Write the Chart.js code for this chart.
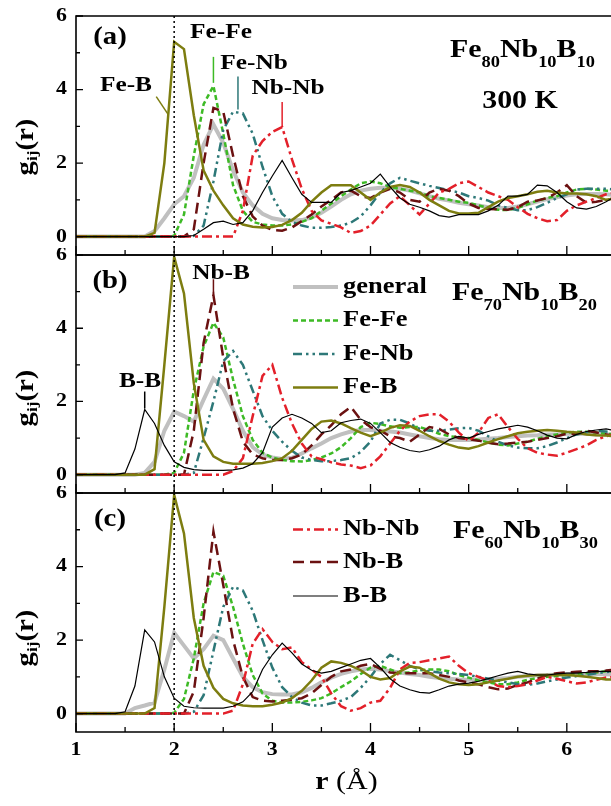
<!DOCTYPE html>
<html>
<head>
<meta charset="utf-8">
<script src="https://cdn.jsdelivr.net/npm/chart.js@4.4.0/dist/chart.umd.min.js"></script>
<style>
    body { margin: 0; background: #fff; }
    #wrap { position: relative; width: 611px; height: 806px; }
    #wrap canvas { position: absolute; left: 0; }
</style>
</head>
<body>
<div id="wrap">
    <canvas id="panelA" width="611" height="262" style="top:0px"></canvas>
    <canvas id="panelB" width="611" height="252" style="top:248px"></canvas>
    <canvas id="panelC" width="611" height="320" style="top:486px"></canvas>
</div>
<script>
// --- DATA: partial pair distribution functions g_ij(r), r step 0.1 A ---
const rGrid = [
    1.0, 1.1, 1.2, 1.3, 1.4, 1.5, 1.6, 1.7, 1.8, 1.9,
    2.0, 2.1, 2.2, 2.3, 2.4, 2.5, 2.6, 2.7, 2.8, 2.9,
    3.0, 3.1, 3.2, 3.3, 3.4, 3.5, 3.6, 3.7, 3.8, 3.9,
    4.0, 4.1, 4.2, 4.3, 4.4, 4.5, 4.6, 4.7, 4.8, 4.9,
    5.0, 5.1, 5.2, 5.3, 5.4, 5.5, 5.6, 5.7, 5.8, 5.9,
    6.0, 6.1, 6.2, 6.3, 6.4, 6.5
];

// (a) Fe80Nb10B10, 300 K
const aGeneral = [
    0, 0, 0, 0, 0, 0, 0, 0, 0.15, 0.5,
    0.88, 1.1, 1.6, 2.5, 3.05, 2.55, 1.8, 1.2, 0.85, 0.62,
    0.5, 0.45, 0.44, 0.45, 0.52, 0.65, 0.82, 1.0, 1.15, 1.25,
    1.3, 1.33, 1.33, 1.3, 1.25, 1.18, 1.1, 1.03, 0.98, 0.92,
    0.88, 0.85, 0.8, 0.78, 0.78, 0.82, 0.88, 0.95, 1.02, 1.07,
    1.12, 1.15, 1.16, 1.16, 1.15, 1.13
];
const aFeFe = [
    0, 0, 0, 0, 0, 0, 0, 0, 0, 0,
    0.02, 0.6, 2.2, 3.6, 4.1, 2.8, 1.4, 0.7, 0.4, 0.33,
    0.3, 0.3, 0.33, 0.4, 0.5, 0.7, 0.9, 1.1, 1.28, 1.45,
    1.5, 1.45, 1.35, 1.3, 1.25, 1.2, 1.1, 1.05, 1.0, 0.95,
    0.92, 0.85, 0.78, 0.73, 0.72, 0.78, 0.88, 0.98, 1.05, 1.1,
    1.2, 1.28, 1.3, 1.28, 1.25, 1.25
];
const aFeNb = [
    0, 0, 0, 0, 0, 0, 0, 0, 0, 0,
    0, 0, 0.02, 0.3, 1.5, 2.9, 3.4, 3.35, 2.8, 1.9,
    1.1, 0.62, 0.4, 0.3, 0.24, 0.24, 0.26, 0.3, 0.38, 0.55,
    0.85, 1.2, 1.45, 1.6, 1.52, 1.45, 1.38, 1.32, 1.26, 1.2,
    1.1, 1.05, 0.98, 0.85, 0.78, 0.72, 0.72, 0.8, 0.92, 1.05,
    1.15, 1.28, 1.3, 1.3, 1.3, 1.28
];
const aFeB = [
    0, 0, 0, 0, 0, 0, 0, 0, 0.1, 2.0,
    5.3, 5.1, 3.3, 1.8, 1.25, 0.85, 0.5, 0.33, 0.27, 0.25,
    0.26, 0.32, 0.45, 0.65, 0.95, 1.2, 1.4, 1.4, 1.4, 1.2,
    1.0, 1.2, 1.35, 1.4, 1.35, 1.2, 1.0, 0.85, 0.7, 0.63,
    0.63, 0.65, 0.8, 0.95, 1.05, 1.1, 1.15, 1.22, 1.25, 1.2,
    1.17, 1.17, 1.15, 1.1, 1.0, 1.05
];
const aNbNb = [
    0, 0, 0, 0, 0, 0, 0, 0, 0, 0,
    0, 0, 0, 0, 0, 0, 0, 0.7, 2.2, 2.6,
    2.85, 2.98, 2.1, 1.3, 0.7, 0.44, 0.35, 0.25, 0.1, 0.15,
    0.3, 0.6, 0.9, 1.1, 0.85, 0.6, 0.9, 1.2, 1.3, 1.45,
    1.5, 1.35, 1.2, 1.1, 1.0, 0.8, 0.62, 0.5, 0.42, 0.45,
    0.7, 0.85, 0.95, 1.05, 1.15, 1.2
];
const aNbB = [
    0, 0, 0, 0, 0, 0, 0, 0, 0, 0,
    0, 0, 0.2, 2.0, 3.5, 3.4, 2.2, 1.1, 0.55, 0.3,
    0.18, 0.16, 0.25, 0.42, 0.6, 0.82, 1.0, 1.2, 1.25, 1.1,
    1.05, 1.2, 1.3, 1.2, 1.0, 0.95, 1.2, 1.3, 1.25, 1.1,
    0.9, 0.78, 0.75, 0.74, 0.73, 0.8, 0.95, 0.98, 1.05, 1.2,
    1.4, 1.1, 0.92, 0.95, 1.0, 1.05
];
const aBB = [
    0, 0, 0, 0, 0, 0, 0, 0, 0, 0,
    0, 0, 0.03, 0.2, 0.38, 0.42, 0.33, 0.38, 0.7, 1.2,
    1.65, 2.07, 1.6, 1.15, 0.93, 0.93, 0.93, 1.2, 1.25, 1.35,
    1.45, 1.7, 1.35, 1.05, 0.88, 0.8, 0.7, 0.57, 0.53, 0.6,
    0.6, 0.6, 0.7, 0.85, 1.1, 1.1, 1.15, 1.4, 1.38, 1.2,
    0.95, 0.78, 0.75, 0.82, 0.95, 1.1
];

// (b) Fe70Nb10B20
const bGeneral = [
    0, 0, 0, 0, 0, 0, 0, 0.05, 0.35, 1.2,
    1.72, 1.6, 1.45, 2.05, 2.62, 2.35, 1.8, 1.2, 0.75, 0.55,
    0.47, 0.43, 0.46, 0.58, 0.72, 0.85, 1.0, 1.1, 1.18, 1.22,
    1.22, 1.2, 1.18, 1.15, 1.1, 1.05, 1.0, 0.97, 0.95, 0.95,
    0.95, 0.96, 0.98, 1.0, 1.03, 1.05, 1.07, 1.08, 1.1, 1.1,
    1.12, 1.12, 1.12, 1.1, 1.1, 1.1
];
const bFeFe = [
    0, 0, 0, 0, 0, 0, 0, 0, 0, 0,
    0.05, 0.6, 2.3, 3.5, 4.15, 3.75, 2.6, 1.6, 0.95, 0.6,
    0.47, 0.4, 0.37, 0.36, 0.4, 0.47, 0.58, 0.75, 1.0, 1.3,
    1.42, 1.38, 1.32, 1.28, 1.3, 1.3, 1.22, 1.12, 1.05, 1.02,
    1.0, 0.95, 0.88, 0.82, 0.8, 0.85, 0.9, 0.98, 1.05, 1.1,
    1.15, 1.17, 1.17, 1.15, 1.12, 1.1
];
const bFeNb = [
    0, 0, 0, 0, 0, 0, 0, 0, 0, 0,
    0, 0, 0.05, 1.0, 2.0, 3.1, 3.38, 3.0, 2.3, 1.6,
    1.2, 0.9, 0.65, 0.47, 0.4, 0.37, 0.37, 0.4, 0.45, 0.62,
    0.9, 1.4, 1.5, 1.5, 1.4, 1.25, 1.2, 1.2, 1.23, 1.27,
    1.28, 1.2, 1.05, 0.9, 0.8, 0.74, 0.72, 0.72, 0.78, 0.88,
    1.0, 1.1, 1.16, 1.2, 1.18, 1.15
];
const bFeB = [
    0, 0, 0, 0, 0, 0, 0, 0, 0.15, 3.0,
    5.95, 4.95, 2.5, 0.95, 0.5, 0.35, 0.3, 0.3, 0.3, 0.32,
    0.37, 0.45, 0.65, 0.95, 1.25, 1.45, 1.48, 1.4, 1.27, 1.15,
    1.05, 1.15, 1.28, 1.35, 1.33, 1.2, 1.05, 0.92, 0.82, 0.74,
    0.71, 0.78, 0.88, 0.97, 1.05, 1.13, 1.17, 1.2, 1.22, 1.2,
    1.17, 1.15, 1.1, 1.08, 1.07, 1.05
];
const bNbNb = [
    0, 0, 0, 0, 0, 0, 0, 0, 0, 0,
    0, 0, 0, 0, 0, 0, 0.1, 0.45, 1.6, 2.7,
    3.0, 2.1, 1.4, 0.85, 0.5, 0.42, 0.34, 0.28, 0.25, 0.18,
    0.25, 0.5, 0.85, 1.2, 1.45, 1.6, 1.65, 1.65, 1.45, 1.15,
    0.92, 1.15, 1.55, 1.65, 1.3, 0.98, 0.72, 0.6, 0.55, 0.52,
    0.6, 0.7, 0.8, 0.95, 1.05, 1.1
];
const bNbB = [
    0, 0, 0, 0, 0, 0, 0, 0, 0, 0,
    0, 0, 1.2, 3.6, 4.9, 3.2, 1.8, 0.9, 0.55, 0.45,
    0.4, 0.4, 0.45, 0.55, 0.8, 1.1, 1.35, 1.65, 1.85, 1.5,
    1.3, 1.2, 1.05, 1.0, 0.9, 1.1, 1.3, 1.25, 1.1, 1.0,
    0.97, 0.93, 0.87, 0.83, 0.85, 0.88, 0.9, 0.95, 1.0, 1.05,
    1.12, 1.12, 1.2, 1.15, 1.1, 1.05
];
const bBB = [
    0, 0, 0, 0, 0, 0.05, 0.7, 1.78, 1.4, 0.8,
    0.35, 0.2, 0.14, 0.12, 0.12, 0.12, 0.13, 0.18, 0.3, 0.6,
    1.3, 1.55, 1.65, 1.55, 1.4, 1.15, 1.2, 1.42, 1.48, 1.52,
    1.4, 1.15, 0.88, 0.75, 0.66, 0.62, 0.68, 0.78, 0.95, 1.05,
    1.0, 1.1, 1.18, 1.25, 1.3, 1.35, 1.3, 1.2, 1.08, 1.0,
    0.98, 1.1, 1.18, 1.22, 1.25, 1.2
];

// (c) Fe60Nb10B30
const cGeneral = [
    0, 0, 0, 0, 0, 0, 0.15, 0.22, 0.3, 1.2,
    2.2, 1.85, 1.5, 1.75, 2.12, 2.0, 1.5, 1.0, 0.72, 0.58,
    0.53, 0.52, 0.52, 0.58, 0.7, 0.85, 0.98, 1.08, 1.15, 1.2,
    1.22, 1.2, 1.15, 1.12, 1.08, 1.05, 1.0, 0.97, 0.95, 0.93,
    0.92, 0.92, 0.93, 0.95, 0.97, 1.0, 1.02, 1.04, 1.05, 1.06,
    1.07, 1.08, 1.08, 1.08, 1.07, 1.06
];
const cFeFe = [
    0, 0, 0, 0, 0, 0, 0, 0, 0, 0,
    0.02, 0.4, 1.5, 3.0, 3.85, 3.75, 2.9, 1.9, 1.05, 0.55,
    0.35, 0.3, 0.3, 0.32, 0.36, 0.42, 0.55, 0.72, 0.88, 1.08,
    1.25, 1.3, 1.2, 1.1, 1.12, 1.18, 1.2, 1.2, 1.15, 1.05,
    0.98, 0.9, 0.85, 0.8, 0.8, 0.85, 0.92, 0.97, 1.0, 1.02,
    1.05, 1.08, 1.1, 1.12, 1.15, 1.15
];
const cFeNb = [
    0, 0, 0, 0, 0, 0, 0, 0, 0, 0,
    0, 0, 0.05, 0.5, 1.7, 2.9, 3.45, 3.35, 2.8, 2.0,
    1.25, 0.72, 0.45, 0.3, 0.22, 0.22, 0.28, 0.35, 0.45, 0.7,
    1.0, 1.35, 1.6, 1.45, 1.3, 1.2, 1.15, 1.12, 1.1, 1.08,
    1.05, 1.0, 0.95, 0.9, 0.85, 0.8, 0.78, 0.82, 0.88, 0.93,
    0.98, 1.02, 1.05, 1.1, 1.13, 1.15
];
const cFeB = [
    0, 0, 0, 0, 0, 0, 0, 0, 0.15, 2.9,
    5.95, 4.9, 2.6, 1.3, 0.7, 0.4, 0.28, 0.22, 0.2, 0.2,
    0.24, 0.3, 0.42, 0.62, 0.9, 1.25, 1.42, 1.38, 1.3, 1.18,
    1.0, 0.93, 0.97, 1.15, 1.28, 1.25, 1.1, 0.95, 0.85, 0.8,
    0.78, 0.8, 0.85, 0.9, 0.95, 1.0, 1.03, 1.05, 1.05, 1.05,
    1.05, 1.03, 1.0, 0.97, 0.93, 0.92
];
const cNbNb = [
    0, 0, 0, 0, 0, 0, 0, 0, 0, 0,
    0, 0, 0, 0, 0, 0, 0.08, 0.8, 1.9, 2.3,
    1.95, 1.75, 1.8, 1.4, 1.2, 1.0, 0.55, 0.2, 0.08, 0.15,
    0.3, 0.35, 0.7, 1.2, 1.38, 1.4, 1.45, 1.5, 1.55, 1.3,
    1.1, 1.0, 0.9, 0.75, 0.72, 0.75, 0.8, 0.9, 1.0, 0.95,
    0.88, 0.82, 0.85, 0.92, 0.98, 1.0
];
const cNbB = [
    0, 0, 0, 0, 0, 0, 0, 0, 0, 0,
    0, 0, 0.6, 2.6, 4.95, 3.5, 2.0, 1.0, 0.45, 0.35,
    0.33, 0.35, 0.38, 0.42, 0.55, 0.78, 1.0, 1.15, 1.2, 1.3,
    1.35, 1.22, 1.12, 1.1, 1.1, 1.1, 1.1, 1.05, 1.0, 0.9,
    0.85, 0.8, 0.72, 0.66, 0.68, 0.78, 0.85, 0.95, 1.05, 1.1,
    1.12, 1.14, 1.15, 1.15, 1.17, 1.2
];
const cBB = [
    0, 0, 0, 0, 0, 0.05, 0.75, 2.28, 1.95, 1.0,
    0.42, 0.2, 0.16, 0.15, 0.15, 0.15, 0.2, 0.32, 0.6, 1.2,
    1.6, 1.92, 1.65, 1.35, 1.18, 1.1, 1.15, 1.25, 1.35, 1.45,
    1.5, 1.25, 0.95, 0.75, 0.65, 0.58, 0.56, 0.65, 0.75, 0.8,
    0.83, 0.88, 0.95, 1.03, 1.1, 1.15, 1.08, 1.05, 1.05, 1.08,
    1.1, 1.1, 1.12, 1.15, 1.15, 1.13
];

// axis ticks
const xMajorTicks = [1, 2, 3, 4, 5, 6];
const xMinorTicks = [1.5, 2.5, 3.5, 4.5, 5.5];
const yMajorTicks = [0, 2, 4, 6];
const yMinorTicks = [1, 3, 5];

// --- STYLES ---
const SERIF = '"Liberation Serif", "Times New Roman", serif';
const STRETCH = 1.15; // text in this figure is set a little wide

const STYLE = {
    general: { label: 'general', color: '#c0c0c0', width: 4,   dash: [] },
    FeFe:    { label: 'Fe-Fe',   color: '#3dba25', width: 2.5, dash: [5, 3] },
    FeNb:    { label: 'Fe-Nb',   color: '#2d7878', width: 2.5, dash: [9, 4, 2.5, 4, 2.5, 4] },
    FeB:     { label: 'Fe-B',    color: '#7d7d10', width: 2.5, dash: [] },
    NbNb:    { label: 'Nb-Nb',   color: '#e3202a', width: 2.5, dash: [10, 4, 3, 4] },
    NbB:     { label: 'Nb-B',    color: '#6b1111', width: 2.5, dash: [11, 6] },
    BB:      { label: 'B-B',     color: '#000000', width: 1.2, dash: [] }
};
// first entry ends up on top
const drawOrder = ['BB', 'FeB', 'NbNb', 'NbB', 'FeNb', 'FeFe', 'general'];

// --- PANELS ---
const panelCfg = {
    panelA: {
        top: 0, padTop: 16, padBottom: 7,
        series: { general: aGeneral, FeFe: aFeFe, FeNb: aFeNb, FeB: aFeB, NbNb: aNbNb, NbB: aNbB, BB: aBB },
        tag: { text: '(a)', x: 110, y: 38 },
        titleY: 147,
        alloy: { nums: ['80', '10', '10'], x: 450, y: 57 },
        extraText: [{ text: '300 K', x: 520, y: 101 }],
        notes: [
            { key: 'FeFe', text: 'Fe-Fe', tx: 221, ty: 32, at: 2.4,  gap: 3, len: 26 },
            { key: 'FeNb', text: 'Fe-Nb', tx: 254, ty: 63, at: 2.65, gap: 3, len: 33 },
            { key: 'NbNb', text: 'Nb-Nb', tx: 288, ty: 88, at: 3.1,  gap: 1, len: 24 },
            { key: 'FeB',  text: 'Fe-B',  tx: 126, ty: 85, at: 1.94, dx: -12, dy: -18 }
        ],
        legend: [],
        showXLabels: false
    },
    panelB: {
        top: 248, padTop: 7, padBottom: 7,
        series: { general: bGeneral, FeFe: bFeFe, FeNb: bFeNb, FeB: bFeB, NbNb: bNbNb, NbB: bNbB, BB: bBB },
        tag: { text: '(b)', x: 110, y: 282 },
        titleY: 398,
        alloy: { nums: ['70', '10', '20'], x: 452, y: 300 },
        extraText: [],
        notes: [
            { key: 'NbB', text: 'Nb-B', tx: 221, ty: 273, at: 2.4, gap: 2, len: 14 },
            { key: 'BB',  text: 'B-B',  tx: 140, ty: 381, at: 1.7, gap: 1, len: 17 }
        ],
        legend: [['general', 287], ['FeFe', 320.5], ['FeNb', 354], ['FeB', 387.5]],
        showXLabels: false
    },
    panelC: {
        top: 486, padTop: 7, padBottom: 74,
        series: { general: cGeneral, FeFe: cFeFe, FeNb: cFeNb, FeB: cFeB, NbNb: cNbNb, NbB: cNbB, BB: cBB },
        tag: { text: '(c)', x: 110, y: 520 },
        titleY: 638,
        alloy: { nums: ['60', '10', '30'], x: 453, y: 538 },
        extraText: [],
        notes: [],
        legend: [['NbNb', 529.5], ['NbB', 562], ['BB', 596]],
        showXLabels: true
    }
};

// --- TEXT HELPERS ---
function font(size, bold) { return (bold ? 'bold ' : '') + size + 'px ' + SERIF; }

// draw a run of text pieces ({t, f, dy}) with the horizontal stretch
function drawRun(ctx, parts, x, y, align) {
    let total = 0;
    parts.forEach(p => { ctx.font = p.f; total += ctx.measureText(p.t).width * STRETCH; });
    let cx = align === 'center' ? x - total / 2 : (align === 'right' ? x - total : x);
    parts.forEach(p => {
        ctx.font = p.f;
        const w = ctx.measureText(p.t).width * STRETCH;
        ctx.save();
        ctx.translate(cx, y + (p.dy || 0));
        ctx.scale(STRETCH, 1);
        ctx.fillText(p.t, 0, 0);
        ctx.restore();
        cx += w;
    });
}

function valueAt(series, r) {
    const i = Math.min(Math.floor((r - rGrid[0]) * 10 + 1e-6), rGrid.length - 2);
    const t = (r - rGrid[i]) / (rGrid[i + 1] - rGrid[i]);
    return series[i] + (series[i + 1] - series[i]) * t;
}

// --- PLUGIN: frame, ticks, labels, legend, notes ---
const panelDeco = {
    id: 'panelDeco',
    afterDatasetsDraw(chart) {
        const cfg = panelCfg[chart.canvas.id];
        const ctx = chart.ctx;
        const area = chart.chartArea;
        const xs = chart.scales.x, ys = chart.scales.y;
        const Y = py => py - cfg.top;

        ctx.save();
        ctx.fillStyle = '#000';
        ctx.strokeStyle = '#000';

        // dotted marker at r = 2
        ctx.lineWidth = 1.5;
        ctx.setLineDash([2, 3]);
        const x2 = xs.getPixelForValue(2);
        ctx.beginPath();
        ctx.moveTo(x2, area.top);
        ctx.lineTo(x2, area.bottom);
        ctx.stroke();
        ctx.setLineDash([]);

        // frame (left, top, bottom)
        ctx.lineWidth = 1.6;
        ctx.beginPath();
        ctx.moveTo(area.right + 2, area.top);
        ctx.lineTo(area.left, area.top);
        ctx.lineTo(area.left, area.bottom);
        ctx.lineTo(area.right + 2, area.bottom);
        ctx.stroke();

        // inward ticks
        ctx.lineWidth = 1.3;
        ctx.beginPath();
        xMajorTicks.forEach(v => {
            const px = xs.getPixelForValue(v);
            ctx.moveTo(px, area.bottom); ctx.lineTo(px, area.bottom - 9);
        });
        xMinorTicks.forEach(v => {
            const px = xs.getPixelForValue(v);
            ctx.moveTo(px, area.bottom); ctx.lineTo(px, area.bottom - 5);
        });
        yMajorTicks.forEach(v => {
            const py = ys.getPixelForValue(v);
            ctx.moveTo(area.left, py); ctx.lineTo(area.left + 7, py);
        });
        yMinorTicks.forEach(v => {
            const py = ys.getPixelForValue(v);
            ctx.moveTo(area.left, py); ctx.lineTo(area.left + 4, py);
        });
        ctx.stroke();

        // tick labels
        ctx.textBaseline = 'middle';
        yMajorTicks.forEach(v => {
            drawRun(ctx, [{ t: String(v), f: font(19, true) }], area.left - 9, ys.getPixelForValue(v), 'right');
        });
        if (cfg.showXLabels) {
            xMajorTicks.forEach(v => {
                drawRun(ctx, [{ t: String(v), f: font(19, true) }], xs.getPixelForValue(v), area.bottom + 18, 'center');
            });
            drawRun(ctx, [{ t: 'r', f: font(26, true) }, { t: ' (\u00C5)', f: font(26, false) }],
                (area.left + area.right) / 2 + 3, area.bottom + 50, 'center');
        }

        // y title, rotated
        ctx.save();
        ctx.translate(27, Y(cfg.titleY));
        ctx.rotate(-Math.PI / 2);
        drawRun(ctx, [
            { t: 'g', f: font(25, true) },
            { t: 'ij', f: font(15, true), dy: 6 },
            { t: '(r)', f: font(25, true) }
        ], 0, 0, 'center');
        ctx.restore();

        // panel tag
        drawRun(ctx, [{ t: cfg.tag.text, f: font(25, true) }], cfg.tag.x, Y(cfg.tag.y), 'center');

        // composition
        ctx.textBaseline = 'alphabetic';
        const big = font(26, true), small = font(16, true);
        drawRun(ctx, [
            { t: 'Fe', f: big }, { t: cfg.alloy.nums[0], f: small, dy: 10 },
            { t: 'Nb', f: big }, { t: cfg.alloy.nums[1], f: small, dy: 10 },
            { t: 'B', f: big }, { t: cfg.alloy.nums[2], f: small, dy: 10 }
        ], cfg.alloy.x, Y(cfg.alloy.y), 'left');
        ctx.textBaseline = 'middle';
        cfg.extraText.forEach(e => drawRun(ctx, [{ t: e.text, f: big }], e.x, Y(e.y), 'center'));

        // labelled peaks with leader lines
        cfg.notes.forEach(n => {
            const st = STYLE[n.key];
            const px = xs.getPixelForValue(n.at);
            const py = ys.getPixelForValue(valueAt(cfg.series[n.key], n.at));
            ctx.strokeStyle = st.color;
            ctx.lineWidth = 1.5;
            ctx.beginPath();
            if (n.dx !== undefined) {
                ctx.moveTo(px, py);
                ctx.lineTo(px + n.dx, py + n.dy);
            } else {
                ctx.moveTo(px, py - n.gap);
                ctx.lineTo(px, py - n.gap - n.len);
            }
            ctx.stroke();
            drawRun(ctx, [{ t: n.text, f: font(22, true) }], n.tx, Y(n.ty), 'center');
        });

        // legend
        cfg.legend.forEach(([key, rowY]) => {
            const st = STYLE[key];
            ctx.strokeStyle = st.color;
            ctx.lineWidth = st.width;
            ctx.setLineDash(st.dash);
            ctx.beginPath();
            ctx.moveTo(293, Y(rowY));
            ctx.lineTo(338, Y(rowY));
            ctx.stroke();
            ctx.setLineDash([]);
            drawRun(ctx, [{ t: st.label, f: font(23, true) }], 343, Y(rowY), 'left');
        });

        ctx.restore();
    }
};

// --- BUILD CHARTS ---
function toPoints(values) {
    return values.map((v, i) => ({ x: rGrid[i], y: v }));
}

Object.keys(panelCfg).forEach(id => {
    const cfg = panelCfg[id];
    new Chart(document.getElementById(id), {
        type: 'line',
        data: {
            datasets: drawOrder.map(key => ({
                label: STYLE[key].label,
                data: toPoints(cfg.series[key]),
                borderColor: STYLE[key].color,
                borderWidth: STYLE[key].width,
                borderDash: STYLE[key].dash,
                borderJoinStyle: 'miter',
                pointRadius: 0,
                tension: 0,
                fill: false
            }))
        },
        options: {
            responsive: false,
            animation: false,
            layout: { padding: { left: 76, right: 0, top: cfg.padTop, bottom: cfg.padBottom } },
            scales: {
                x: { type: 'linear', min: 1, max: 6.45, display: false },
                y: { type: 'linear', min: -0.5, max: 6, display: false }
            },
            plugins: {
                legend: { display: false },
                tooltip: { enabled: false }
            }
        },
        plugins: [panelDeco]
    });
});
</script>
</body>
</html>
